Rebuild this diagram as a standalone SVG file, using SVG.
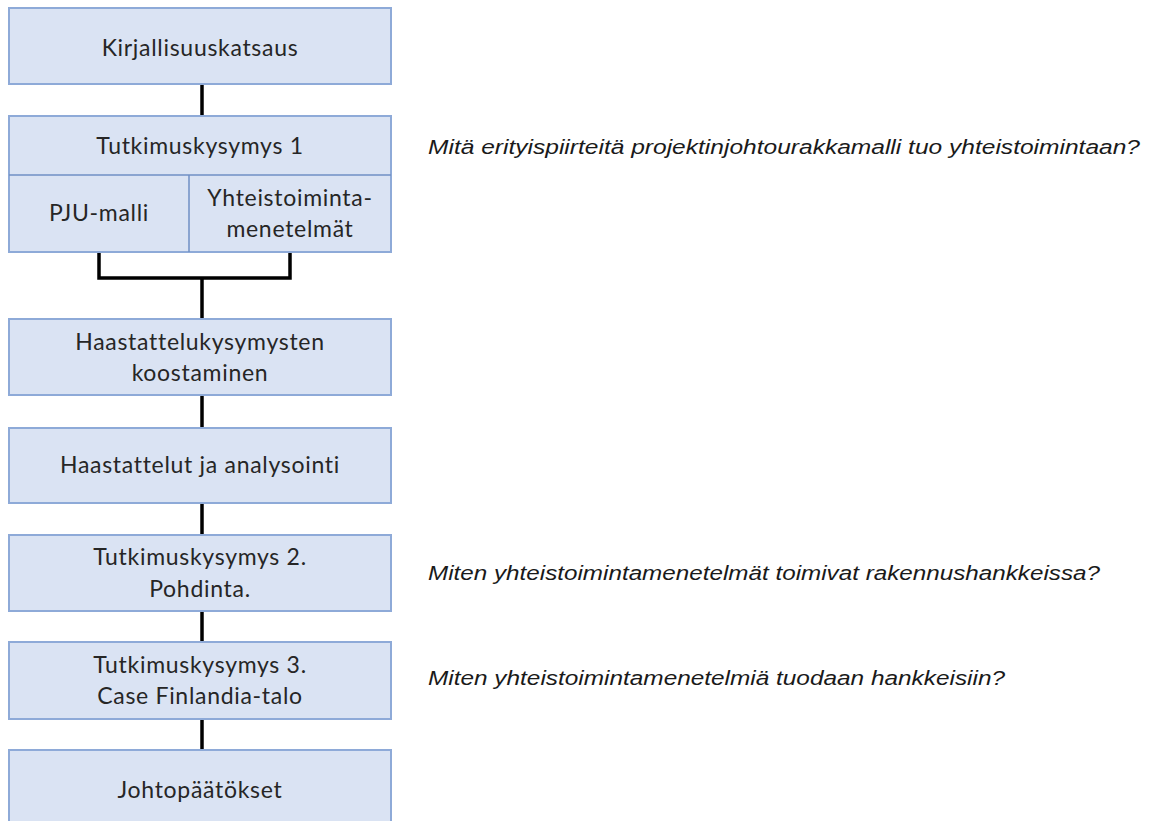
<svg xmlns="http://www.w3.org/2000/svg" width="1154" height="821" viewBox="0 0 1154 821">
  <style>
    .box { fill: #dae3f3; stroke: #8eaad8; stroke-width: 2; }
    .div { stroke: #6f8fc4; stroke-width: 1.5; fill: none; }
    .lbl { font-family: Lato, "Open Sans", sans-serif; font-size: 23px; letter-spacing: 0.7px; fill: #262626; text-anchor: middle; }
    .q { font-family: "Liberation Sans", Arial, sans-serif; font-style: italic; font-size: 20px; fill: #1a1a1a; }
    .wire { stroke: #000; stroke-width: 3.5; fill: none; }
  </style>
  <rect width="1154" height="821" fill="#ffffff"/>

  <!-- connectors -->
  <g id="connectors">
    <line class="wire" x1="202" y1="84" x2="202" y2="116"/>
    <path class="wire" d="M99 252 V278 H290 V252" stroke-width="3"/>
    <line class="wire" x1="202" y1="278" x2="202" y2="319"/>
    <line class="wire" x1="202" y1="395" x2="202" y2="428"/>
    <line class="wire" x1="202" y1="503" x2="202" y2="535"/>
    <line class="wire" x1="202" y1="611" x2="202" y2="642"/>
    <line class="wire" x1="202" y1="719" x2="202" y2="750"/>
  </g>

  <g id="kirjallisuuskatsaus">
    <rect class="box" x="9" y="8" width="382" height="76"/>
    <text class="lbl" x="200" y="56">Kirjallisuuskatsaus</text>
  </g>

  <g id="tutkimuskysymys1">
    <rect class="box" x="9" y="116" width="382" height="136"/>
    <line class="div" x1="9" y1="175" x2="391" y2="175"/>
    <line class="div" x1="189" y1="175" x2="189" y2="252"/>
    <text class="lbl" x="200" y="154">Tutkimuskysymys 1</text>
    <text class="lbl" x="99" y="221">PJU-malli</text>
    <text class="lbl" x="290" y="206">Yhteistoiminta-</text>
    <text class="lbl" x="290" y="237">menetelmät</text>
  </g>

  <g id="haastattelukysymykset">
    <rect class="box" x="9" y="319" width="382" height="76"/>
    <text class="lbl" x="200" y="350">Haastattelukysymysten</text>
    <text class="lbl" x="200" y="381">koostaminen</text>
  </g>

  <g id="haastattelut">
    <rect class="box" x="9" y="428" width="382" height="75"/>
    <text class="lbl" x="200" y="473">Haastattelut ja analysointi</text>
  </g>

  <g id="tutkimuskysymys2">
    <rect class="box" x="9" y="535" width="382" height="76"/>
    <text class="lbl" x="200" y="565">Tutkimuskysymys 2.</text>
    <text class="lbl" x="200" y="597">Pohdinta.</text>
  </g>

  <g id="tutkimuskysymys3">
    <rect class="box" x="9" y="642" width="382" height="77"/>
    <text class="lbl" x="200" y="673">Tutkimuskysymys 3.</text>
    <text class="lbl" x="200" y="704">Case Finlandia-talo</text>
  </g>

  <g id="johtopaatokset">
    <rect class="box" x="9" y="750" width="382" height="90"/>
    <text class="lbl" x="200" y="798">Johtopäätökset</text>
  </g>

  <g id="questions">
    <text class="q" x="428" y="154" textLength="712" lengthAdjust="spacingAndGlyphs">Mitä erityispiirteitä projektinjohtourakkamalli tuo yhteistoimintaan?</text>
    <text class="q" x="428" y="580" textLength="672" lengthAdjust="spacingAndGlyphs">Miten yhteistoimintamenetelmät toimivat rakennushankkeissa?</text>
    <text class="q" x="428" y="685" textLength="577" lengthAdjust="spacingAndGlyphs">Miten yhteistoimintamenetelmiä tuodaan hankkeisiin?</text>
  </g>
</svg>
